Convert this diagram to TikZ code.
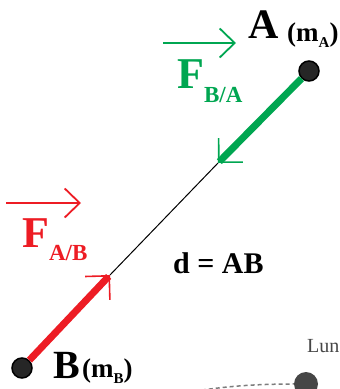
\documentclass[tikz,border=0pt]{standalone}
\usepackage{fontspec}
\setmainfont{Liberation Serif}
\usetikzlibrary{arrows.meta}
\definecolor{forceA}{RGB}{0,166,81}
\definecolor{forceB}{RGB}{237,28,36}
\definecolor{moon}{RGB}{70,70,70}
\newcommand{\fs}[1]{\fontsize{#1}{#1}\selectfont}

\begin{document}
\begin{tikzpicture}[x=1pt,y=-1pt,
  mass/.style={circle,draw=black,line width=1.5pt,fill=black!85,minimum size=20pt,inner sep=0pt},
  rod/.style={line width=7pt,-{Straight Barb[length=17pt,width=34pt,line width=1.6pt]}},
  vecbar/.style={line width=1.8pt,-{Straight Barb[length=15pt,width=29pt,line width=1.8pt]}},
  lbl/.style={anchor=base west,inner sep=0pt}]
\useasboundingbox (0,0) rectangle (340,389);
% the two masses and the segment AB
\node[mass] (A) at (309,71) {};
\node[mass] (B) at (22,368) {};
\coordinate (gtip) at (218,163);
\coordinate (rtip) at (110,275);
\draw[line width=1pt] (gtip) -- (rtip);
\draw[rod,forceA] (A) -- (gtip);
\draw[rod,forceB] (B) -- (rtip);
% labels of the masses
\node[lbl,font=\bfseries\fs{42}] (Alab) at (248,38) {A};
\node[lbl,font=\bfseries\fs{27}] (mA) at (287,41) {(m\raisebox{-6pt}{\fs{15}A})};
\node[lbl,font=\bfseries\fs{40}] (Blab) at (53,378) {B};
\node[lbl,font=\bfseries\fs{27}] (mB) at (82,377) {(m\raisebox{-6pt}{\fs{15}B})};
% force vectors
\coordinate (gbarL) at (163,43);
\coordinate (gbarR) at (236,43);
\draw[vecbar,forceA] (gbarL) -- (gbarR);
\node[lbl,text=forceA,font=\bfseries\fs{44}] (FBA) at (177,88) {F\raisebox{-14pt}{\fs{23}B/A}};
\coordinate (rbarL) at (6,203);
\coordinate (rbarR) at (81,203);
\draw[vecbar,forceB] (rbarL) -- (rbarR);
\node[lbl,text=forceB,font=\bfseries\fs{44}] (FAB) at (22,247) {F\raisebox{-13pt}{\fs{23}A/B}};
\node[lbl,font=\bfseries\fs{30}] (dist) at (173,273) {d = AB};
% piece of the next figure, cut by the frame
\node[lbl,text=moon,font=\fs{20}] (lune) at (307,352) {Lun};
\node[circle,fill=moon,minimum size=24pt,inner sep=0pt] (ball) at (306,384) {};
\coordinate (orbit) at (188,392);
\draw[moon!70,line width=1.5pt,dash pattern=on 4pt off 3pt] (orbit) to[bend left=4] (ball);
\end{tikzpicture}
\end{document}
